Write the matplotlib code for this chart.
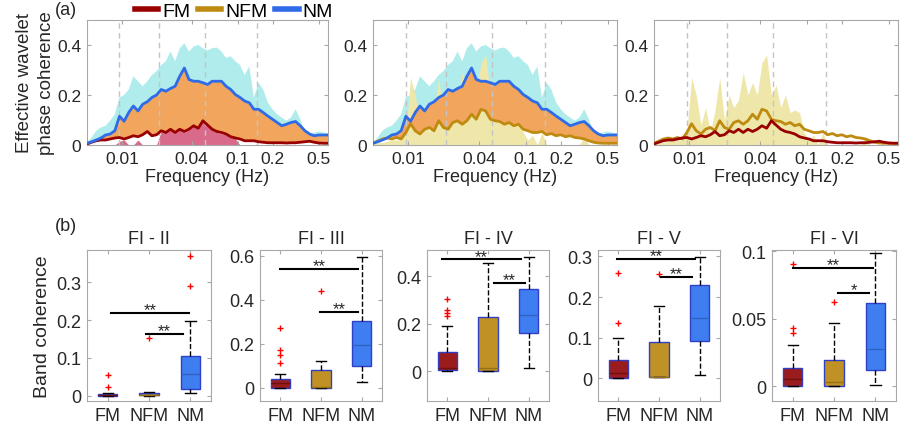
import numpy as np
import matplotlib
matplotlib.use('Agg')
import matplotlib.pyplot as plt
from matplotlib.ticker import FixedLocator, NullLocator
from matplotlib.lines import Line2D

plt.rcParams['font.family'] = ['Liberation Sans', 'DejaVu Sans']

# ---- spectra (panel a) ----
freq = [0.005, 0.00548, 0.00601, 0.00659, 0.00723, 0.00792, 0.00869, 0.00953, 0.01045,
        0.01145, 0.01256, 0.01377, 0.0151, 0.01656, 0.01815, 0.01991, 0.02183, 0.02393,
        0.02624, 0.02877, 0.03155, 0.03459, 0.03793, 0.04159, 0.0456, 0.05, 0.0548,
        0.0601, 0.0659, 0.0723, 0.0792, 0.0869, 0.0953, 0.1045, 0.1145, 0.1256, 0.1377,
        0.151, 0.1656, 0.1815, 0.1991, 0.2183, 0.2393, 0.2624, 0.2877, 0.3155, 0.3459,
        0.3793, 0.4159, 0.456, 0.5, 0.548, 0.601]

nm_mean = [0.007, 0.013, 0.02, 0.028, 0.04, 0.044, 0.057, 0.115, 0.095, 0.13, 0.156, 0.136,
           0.163, 0.173, 0.19, 0.20, 0.222, 0.215, 0.226, 0.235, 0.275, 0.308, 0.262, 0.255,
           0.255, 0.249, 0.242,
           0.255, 0.255, 0.255, 0.235, 0.222, 0.202, 0.19, 0.176, 0.169, 0.143, 0.143, 0.13,
           0.116, 0.103, 0.09, 0.077, 0.083, 0.09, 0.094, 0.077, 0.057, 0.044, 0.037, 0.04,
           0.04, 0.04]
nm_shade = [0.01, 0.03, 0.057, 0.07, 0.077, 0.097, 0.123, 0.19, 0.2, 0.222, 0.275, 0.255,
            0.235, 0.255, 0.28, 0.295, 0.32, 0.335, 0.374, 0.335, 0.387, 0.407, 0.374, 0.394,
            0.40, 0.387, 0.378,
            0.387, 0.39, 0.374, 0.348, 0.355, 0.335, 0.32, 0.28, 0.315, 0.19, 0.249, 0.222,
            0.17, 0.143, 0.123, 0.11, 0.097, 0.11, 0.143, 0.103, 0.05, 0.046, 0.05, 0.054,
            0.05, 0.046]
fm_mean = [0.004, 0.011, 0.017, 0.02, 0.02, 0.024, 0.028, 0.03, 0.024, 0.03, 0.037, 0.033,
           0.041, 0.054, 0.037, 0.041, 0.057, 0.05, 0.063, 0.05, 0.063, 0.054, 0.063, 0.077,
           0.067, 0.097, 0.08,
           0.063, 0.054, 0.05, 0.044, 0.033, 0.028, 0.024, 0.017, 0.017, 0.017, 0.013, 0.011,
           0.009, 0.009, 0.009, 0.009, 0.008, 0.009, 0.009, 0.011, 0.013, 0.015, 0.011, 0.008,
           0.007, 0.007]
fm_shade = [0, 0, 0, 0, 0, 0, 0, 0.015, 0.02, 0, 0, 0.02, 0, 0, 0, 0,
            0.055, 0.05, 0.06, 0.05, 0.06, 0.05, 0.06, 0.075, 0.065, 0.095, 0.08,
            0.06, 0.05, 0.045, 0.04, 0.03, 0.025,
            0, 0, 0, 0, 0, 0, 0, 0, 0, 0, 0, 0, 0, 0, 0, 0, 0, 0, 0, 0]
nfm_mean = [0.007, 0.015, 0.024, 0.028, 0.024, 0.03, 0.024, 0.05, 0.085, 0.057, 0.044, 0.063,
            0.07, 0.057, 0.097, 0.07, 0.063, 0.09, 0.097, 0.083, 0.097, 0.123, 0.103, 0.143,
            0.136, 0.103,
            0.097, 0.094, 0.083, 0.09, 0.077, 0.083, 0.063, 0.057, 0.05, 0.05, 0.054, 0.041,
            0.046, 0.037, 0.041, 0.033, 0.037, 0.03, 0.028, 0.024, 0.017, 0.011, 0.008, 0.007,
            0.007, 0.007, 0.007]
nfm_shade = [0.005, 0.01, 0.01, 0.015, 0.02, 0.02, 0.02, 0.05, 0.27, 0.2, 0.08, 0.15, 0.05,
             0.14, 0.27, 0.1, 0.2, 0.15, 0.18, 0.29, 0.2, 0.25, 0.2, 0.33, 0.36, 0.2,
             0.24, 0.15, 0.2, 0.13, 0.14, 0.13, 0.05, 0.02, 0.04, 0.0, 0.05, 0.0, 0.0, 0.0,
             0.0, 0.0, 0.0, 0.0, 0.0, 0.035, 0.0, 0.0, 0.0, 0.0, 0.0, 0.0, 0.0]

band_edges = [0.0095, 0.021, 0.052, 0.145]
freq_ticks = [0.01, 0.04, 0.1, 0.2, 0.5]
freq_ticklabels = ['0.01', '0.04', '0.1', '0.2', '0.5']

# ---- band coherence (panel b) ----
groups = ['FM', 'NFM', 'NM']
band_names = ['FI - II', 'FI - III', 'FI - IV', 'FI - V', 'FI - VI']
# per band, per group: (whislo, q1, med, q3, whishi, fliers)
band_stats = [
    [(0.0, 0.0, 0.002, 0.004, 0.008, [0.055, 0.022]),
     (0.0, 0.001, 0.003, 0.007, 0.009, [0.152]),
     (0.006, 0.018, 0.057, 0.104, 0.198, [0.368, 0.291])],
    [(0.0, 0.0, 0.02, 0.038, 0.062, [0.271, 0.173, 0.150, 0.112]),
     (0.0, 0.0, 0.005, 0.08, 0.123, [0.438]),
     (0.025, 0.1, 0.195, 0.302, 0.595, [])],
    [(0.0, 0.005, 0.014, 0.081, 0.189, [0.303, 0.259, 0.246, 0.233]),
     (0.0, 0.0, 0.012, 0.227, 0.457, []),
     (0.011, 0.16, 0.237, 0.347, 0.482, [])],
    [(0.0, 0.0, 0.013, 0.046, 0.099, [0.26, 0.136]),
     (0.002, 0.002, 0.004, 0.089, 0.177, [0.256]),
     (0.008, 0.091, 0.148, 0.229, 0.298, [])],
    [(0.0, 0.0, 0.0054, 0.0134, 0.0306, [0.0908, 0.043, 0.0398]),
     (0.0, 0.0, 0.0032, 0.0194, 0.0467, [0.0627]),
     (0.001, 0.012, 0.0278, 0.0617, 0.099, [])],
]
band_ylims = [(-0.014, 0.385), (-0.06, 0.626), (-0.126, 0.51), (-0.056, 0.316), (-0.011, 0.101)]
band_yticks = [[0, 0.1, 0.2, 0.3], [0, 0.2, 0.4, 0.6], [0, 0.2, 0.4], [0, 0.1, 0.2, 0.3],
               [0, 0.05, 0.1]]
# significance brackets: (x0, x1, y, stars)
band_sig = [
    [(1.07, 2.97, 0.219, '**'), (1.92, 2.83, 0.164, '**')],
    [(1.0, 2.92, 0.54, '**'), (1.98, 2.92, 0.344, '**')],
    [(0.86, 2.82, 0.47, '**'), (2.14, 2.9, 0.37, '**')],
    [(0.96, 2.89, 0.294, '**'), (2.04, 2.82, 0.25, '**')],
    [(1.0, 2.95, 0.0875, '**'), (2.1, 2.85, 0.069, '*')],
]

c_fm, c_nfm, c_nm = '#990000', '#bf8a10', '#2f6be8'
c_cyan, c_orange, c_pink, c_khaki = '#b0ecec', '#f2a55c', '#d96a8c', '#efe7aa'
box_face = ['#9b1c1c', '#c09225', '#3f7ef0']
box_med = ['#6e1010', '#937015', '#3062c4']
spine_c = '#a8a8a8'
txt_c = '#262626'

f = np.array(freq)


def style_axes(ax, size):
    for s in ax.spines.values():
        s.set_color(spine_c)
        s.set_linewidth(0.8)
    ax.tick_params(direction='in', length=3, top=True, right=True, color=spine_c,
                   labelcolor=txt_c, labelsize=size, pad=4)


fig = plt.figure(figsize=(9.02, 4.35), dpi=100)

top_pos = [(87, 241), (373, 244), (654, 244)]
top_axes = []
for left, width in top_pos:
    ax = fig.add_axes([left / 902, (435 - 146) / 435, width / 902, 125 / 435])
    top_axes.append(ax)

# panel 1: FM vs NM
ax = top_axes[0]
ax.fill_between(f, nm_mean, nm_shade, where=np.array(nm_shade) >= np.array(nm_mean),
                color=c_cyan, lw=0, interpolate=True)
ax.fill_between(f, 0, fm_shade, color=c_pink, lw=0)
ax.fill_between(f, fm_mean, nm_mean, color=c_orange, lw=0)
ax.plot(f, fm_mean, color=c_fm, lw=2, zorder=4)
ax.plot(f, nm_mean, color=c_nm, lw=2, zorder=4)

# panel 2: NFM vs NM
ax = top_axes[1]
ax.fill_between(f, nm_mean, nm_shade, where=np.array(nm_shade) >= np.array(nm_mean),
                color=c_cyan, lw=0, interpolate=True)
ax.fill_between(f, 0, nfm_shade, color=c_khaki, lw=0)
ax.fill_between(f, nfm_mean, nm_mean, color=c_orange, lw=0)
ax.plot(f, nfm_mean, color=c_nfm, lw=2, zorder=4)
ax.plot(f, nm_mean, color=c_nm, lw=2, zorder=4)

# panel 3: FM vs NFM
ax = top_axes[2]
ax.fill_between(f, 0, fm_shade, color=c_pink, lw=0)
ax.fill_between(f, 0, nfm_shade, color=c_khaki, lw=0)
ax.plot(f, nfm_mean, color=c_nfm, lw=2, zorder=4)
ax.plot(f, fm_mean, color=c_fm, lw=2, zorder=4)

for i, ax in enumerate(top_axes):
    for b in band_edges:
        ax.axvline(b, color='#c4c4c4', lw=1, dashes=(4, 3), zorder=3)
    ax.set_xscale('log')
    ax.set_xlim(0.005, 0.6)
    ax.set_ylim(0, 0.5)
    ax.xaxis.set_major_locator(FixedLocator(freq_ticks))
    ax.xaxis.set_minor_locator(NullLocator())
    ax.set_xticklabels(freq_ticklabels)
    ax.set_yticks([0, 0.2, 0.4])
    ax.set_yticklabels(['0', '0.2', '0.4'])
    style_axes(ax, 12.5)
    ax.set_xlabel('Frequency (Hz)', fontsize=13, color=txt_c, labelpad=2)
top_axes[0].set_ylabel('Effective wavelet\nphase coherence', fontsize=13.5, color=txt_c,
                       labelpad=2, linespacing=1.35)

handles = [Line2D([], [], color=c, lw=4) for c in (c_fm, c_nfm, c_nm)]
fig.legend(handles, groups, loc='center', bbox_to_anchor=(0.2594, 0.972), ncol=3,
           frameon=False, fontsize=14, handlelength=1.2, handletextpad=0.2,
           columnspacing=0.4, borderpad=0)

fig.text(0.073, 0.975, '(a)', fontsize=13, color=txt_c, ha='center', va='center')
fig.text(0.073, 0.48, '(b)', fontsize=13, color=txt_c, ha='center', va='center')

# ---- box plots ----
bot_pos = [(87, 124), (260, 122), (427, 122), (598, 122), (772, 124)]
for k, (left, width) in enumerate(bot_pos):
    ax = fig.add_axes([left / 902, (435 - 402) / 435, width / 902, 151 / 435])
    stats = []
    for g, s in zip(groups, band_stats[k]):
        stats.append(dict(label=g, whislo=s[0], q1=s[1], med=s[2], q3=s[3],
                          whishi=s[4], fliers=s[5]))
    bp = ax.bxp(stats, positions=[1, 2, 3], widths=0.47, capwidths=0.25,
                patch_artist=True, showfliers=True,
                boxprops=dict(edgecolor='#2f3fc8', linewidth=1),
                whiskerprops=dict(color='k', linestyle='--', linewidth=1),
                capprops=dict(color='k', linewidth=1),
                medianprops=dict(linewidth=1),
                flierprops=dict(marker='+', markeredgecolor='red', markersize=4,
                                markeredgewidth=1, linestyle='none'))
    for j, patch in enumerate(bp['boxes']):
        patch.set_facecolor(box_face[j])
        bp['medians'][j].set_color(box_med[j])
    for x0, x1, y, stars in band_sig[k]:
        ax.plot([x0, x1], [y, y], color='k', lw=1.5, zorder=5)
        ax.annotate(stars, ((x0 + x1) / 2, y), xytext=(0, -3), textcoords='offset points',
                    ha='center', va='bottom', fontsize=12, color=txt_c, zorder=5)
    ax.set_xlim(0.5, 3.5)
    ax.set_ylim(*band_ylims[k])
    ax.set_yticks(band_yticks[k])
    ax.set_yticklabels([f'{v:g}' for v in band_yticks[k]])
    ax.set_xticks([1, 2, 3])
    ax.set_xticklabels(groups)
    style_axes(ax, 13)
    ax.set_title(band_names[k], fontsize=13, color=txt_c, pad=5)
    if k == 0:
        ax.set_ylabel('Band coherence', fontsize=14, color=txt_c, labelpad=4)

fig.savefig('out.png', dpi=100)
